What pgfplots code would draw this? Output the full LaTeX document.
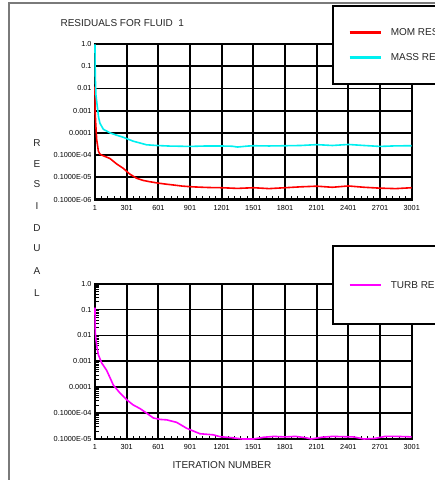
\documentclass[border=0pt]{standalone}
\usepackage{fontspec}
\setmainfont{Liberation Sans}
\usepackage{pgfplots}
\pgfplotsset{compat=1.18}
\definecolor{cyanres}{RGB}{0,240,240}
\definecolor{redres}{RGB}{255,0,0}
\definecolor{magres}{RGB}{255,0,255}
\definecolor{framegray}{RGB}{122,122,122}
\begin{document}
\begin{tikzpicture}[x=1pt,y=1pt]
\useasboundingbox (0,0) rectangle (435,480);
\begin{scope}
\clip (0,0) rectangle (435,480);
\fill[white] (0,0) rectangle (435,480);
\draw[framegray, line width=1.5pt] (9,-10) rectangle (460,477);

\node[anchor=west, font=\fontsize{10}{12}\selectfont, text=black!85] at (57,457) {RESIDUALS FOR FLUID\ \ 1};
\foreach \ch/\yy in {R/337,E/316,S/296,I/274,D/252,U/232,A/209,L/187}{
  \node[font=\fontsize{10}{12}\selectfont, text=black!85] at (37,\yy) {\ch};
}
\node[font=\fontsize{10}{12}\selectfont, text=black!85] at (222,15) {ITERATION NUMBER};

% ---------- top axis ----------
\begin{axis}[
  scale only axis, width=316.7pt, height=155.5pt,
  at={(95pt,280.5pt)}, anchor=south west,
  xmin=1, xmax=3001, ymode=log,
  ymin=1e-7, ymax=1, clip=false,
  xtick={1,301,601,901,1201,1501,1801,2101,2401,2701,3001},
  xticklabels={1,301,601,901,1201,1501,1801,2101,2401,2701,3001},
  minor x tick num=4,
  ytick={1e-7,1e-6,1e-5,1e-4,1e-3,1e-2,1e-1,1},
  yticklabels={0.1000E-06,0.1000E-05,0.1000E-04,0.0001,0.001,0.01,0.1,1.0},
  yminorticks=false,
  grid=major, major grid style={black, line width=1.8pt},
  axis line style={black, line width=2.4pt},
  tick style={black, line width=0.6pt}, major tick length=0pt, minor tick length=3.5pt,
  tick align=inside, xtick pos=left, ytick pos=left,
  ticklabel style={font=\fontsize{7.3}{8}\selectfont, text=black},
  xticklabel style={yshift=-2pt},
  legend cell align=left,
  legend image code/.code={\draw[#1, line width=2.2pt] (0pt,0pt) -- (31pt,0pt);},
  legend style={at={(0.747,1.251)}, anchor=north west, draw=black, line width=2pt, fill=white,
    inner xsep=16pt, inner ysep=23pt, row sep=18pt, column sep=9pt,
    nodes={inner sep=0pt, text depth=0pt, text height=7pt},
    font=\fontsize{10}{12}\selectfont, text=black!85},
]
\addplot[redres, line width=1.6pt, no markers] coordinates {
(1,1.2e-2) (2,2e-3) (3,8e-4) (8,2.5e-4) (17,5e-5) (33,1.5e-5) (48,1.1e-5)
(64,1.0e-5) (100,8.5e-6) (143,7e-6) (206,4e-6) (270,2.5e-6) (330,1.4e-6)
(396,9e-7) (459,7.2e-7) (521,6.3e-7) (585,5.6e-7) (660,5e-7) (743,4.5e-7)
(830,4e-7) (932,3.7e-7) (1050,3.5e-7) (1100,3.45e-7) (1201,3.39e-7) (1350,3.16e-7)
(1501,3.39e-7) (1650,3.09e-7) (1801,3.39e-7) (1950,3.72e-7) (2101,3.98e-7)
(2250,3.55e-7) (2401,4.07e-7) (2550,3.55e-7) (2701,3.24e-7) (2850,3.09e-7) (3001,3.39e-7)
};
\addlegendentry{\makebox[90pt][l]{MOM RESIDUAL}}
\addplot[cyanres, line width=1.6pt, no markers] coordinates {
(1,0.95) (2,0.15) (4,3e-2) (10,5e-3) (23,1.5e-3) (35,5e-4) (48,2.7e-4)
(80,1.45e-4) (143,1.0e-4) (200,8e-5) (270,6.3e-5) (364,4.2e-5) (427,3.5e-5)
(490,2.9e-5) (585,2.7e-5) (700,2.55e-5) (800,2.5e-5) (900,2.45e-5) (1059,2.57e-5)
(1185,2.57e-5) (1300,2.5e-5) (1350,2.3e-5) (1450,2.55e-5) (1501,2.63e-5)
(1650,2.57e-5) (1801,2.63e-5) (1950,2.7e-5) (2101,2.95e-5) (2250,2.7e-5)
(2401,3.0e-5) (2550,2.7e-5) (2701,2.45e-5) (2850,2.6e-5) (3001,2.63e-5)
};
\addlegendentry{\makebox[90pt][l]{MASS RESIDUAL}}
\end{axis}

% ---------- bottom axis ----------
\begin{axis}[
  scale only axis, width=316.7pt, height=155.3pt,
  at={(95pt,41pt)}, anchor=south west,
  xmin=1, xmax=3001, ymode=log,
  ymin=1e-6, ymax=1, clip=false,
  xtick={1,301,601,901,1201,1501,1801,2101,2401,2701,3001},
  xticklabels={1,301,601,901,1201,1501,1801,2101,2401,2701,3001},
  minor x tick num=4,
  ytick={1e-6,1e-5,1e-4,1e-3,1e-2,1e-1,1},
  yticklabels={0.1000E-05,0.1000E-04,0.0001,0.001,0.01,0.1,1.0},
  grid=major, major grid style={black, line width=1.8pt},
  axis line style={black, line width=2.4pt},
  tick style={black, line width=0.6pt}, major tick length=0pt, minor tick length=3.5pt,
  tick align=inside, xtick pos=left, ytick pos=left,
  ticklabel style={font=\fontsize{7.3}{8}\selectfont, text=black},
  xticklabel style={yshift=-2pt},
  legend cell align=left,
  legend image code/.code={\draw[#1, line width=2.2pt] (0pt,0pt) -- (31pt,0pt);},
  legend style={at={(0.747,1.249)}, anchor=north west, draw=black, line width=2pt, fill=white,
    inner xsep=16pt, inner ysep=35.5pt, column sep=9pt,
    nodes={inner sep=0pt, text depth=0pt, text height=7pt},
    font=\fontsize{10}{12}\selectfont, text=black!85},
]
\addplot[magres, line width=1.6pt, no markers] coordinates {
(1,0.12) (2,3e-2) (5,1.2e-2) (10,6.9e-3) (20,3.5e-3) (33,1.8e-3) (64,8.7e-4)
(111,4.5e-4) (140,2.5e-4) (175,1.2e-4) (230,6.5e-5) (301,3.3e-5) (360,2.1e-5)
(427,1.5e-5) (490,1.0e-5) (553,6.5e-6) (620,5.7e-6) (680,5.5e-6) (774,4.4e-6)
(869,2.6e-6) (950,1.9e-6) (995,1.6e-6) (1121,1.45e-6) (1185,1.23e-6) (1300,1.12e-6)
(1400,1.0e-6) (1500,1.0e-6) (1600,1.17e-6) (1700,1.26e-6) (1800,1.2e-6)
(1900,1.26e-6) (2000,1.12e-6) (2050,1.0e-6) (2150,1.17e-6) (2250,1.26e-6)
(2350,1.23e-6) (2450,1.2e-6) (2550,1.0e-6) (2650,1.05e-6) (2750,1.26e-6)
(2850,1.26e-6) (2950,1.23e-6) (3001,1.2e-6)
};
\addlegendentry{\makebox[90pt][l]{TURB RESIDUAL}}
\end{axis}
\end{scope}
\end{tikzpicture}
\end{document}
